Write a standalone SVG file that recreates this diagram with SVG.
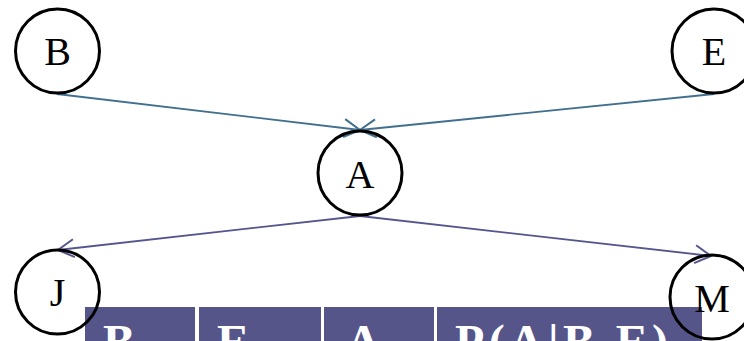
<svg xmlns="http://www.w3.org/2000/svg" width="744" height="341" viewBox="0 0 744 341">
<style>
.node circle{fill:none;stroke:#000;stroke-width:3}
.node text{font-family:"Liberation Serif",serif;font-size:40px;text-anchor:middle;fill:#000}
.e1{stroke:#41708f;stroke-width:1.8;fill:none}
.e2{stroke:#55558f;stroke-width:1.8;fill:none}
.cell{fill:#55558a}
.hd{font-family:"Liberation Serif",serif;font-weight:bold;font-size:48px;fill:#fff}
</style>
<defs>
<marker id="ab" markerUnits="userSpaceOnUse" markerWidth="40" markerHeight="40" refX="20" refY="20" orient="auto" viewBox="0 0 40 40">
<path d="M4,11 L20,20 L4,29" fill="none" stroke="#41708f" stroke-width="2"/>
</marker>
<marker id="ap" markerUnits="userSpaceOnUse" markerWidth="40" markerHeight="40" refX="20" refY="20" orient="auto" viewBox="0 0 40 40">
<path d="M4,11 L20,20 L4,29" fill="none" stroke="#55558f" stroke-width="2"/>
</marker>
</defs>
<g id="table">
<rect class="cell" x="85" y="307" width="110" height="40"/>
<rect class="cell" x="199" y="307" width="122" height="40"/>
<rect class="cell" x="324" y="307" width="110" height="40"/>
<rect class="cell" x="437" y="307" width="265" height="40"/>
<text class="hd" x="103" y="358">B</text>
<text class="hd" x="217" y="358">E</text>
<text class="hd" x="346" y="358">A</text>
<text class="hd" x="455" y="358" textLength="213" lengthAdjust="spacing">P(A|B,E)</text>
</g>
<g id="connectors">
<line class="e1" x1="57" y1="94" x2="360" y2="130" marker-end="url(#ab)"/>
<line class="e1" x1="714" y1="94" x2="360" y2="130" marker-end="url(#ab)"/>
<line class="e2" x1="360" y1="216" x2="58" y2="250" marker-end="url(#ap)"/>
<line class="e2" x1="360" y1="216" x2="711" y2="256" marker-end="url(#ap)"/>
</g>
<g id="node-B" class="node"><circle cx="57.5" cy="51" r="42"/><text x="57.5" y="65">B</text></g>
<g id="node-E" class="node"><circle cx="714" cy="51" r="42"/><text x="714" y="65">E</text></g>
<g id="node-A" class="node"><circle cx="360" cy="173" r="42"/><text x="360" y="188">A</text></g>
<g id="node-J" class="node"><circle cx="57.5" cy="292" r="42"/><text x="57.5" y="306">J</text></g>
<g id="node-M" class="node"><circle cx="712" cy="297" r="42"/><text x="712" y="312">M</text></g>
</svg>
